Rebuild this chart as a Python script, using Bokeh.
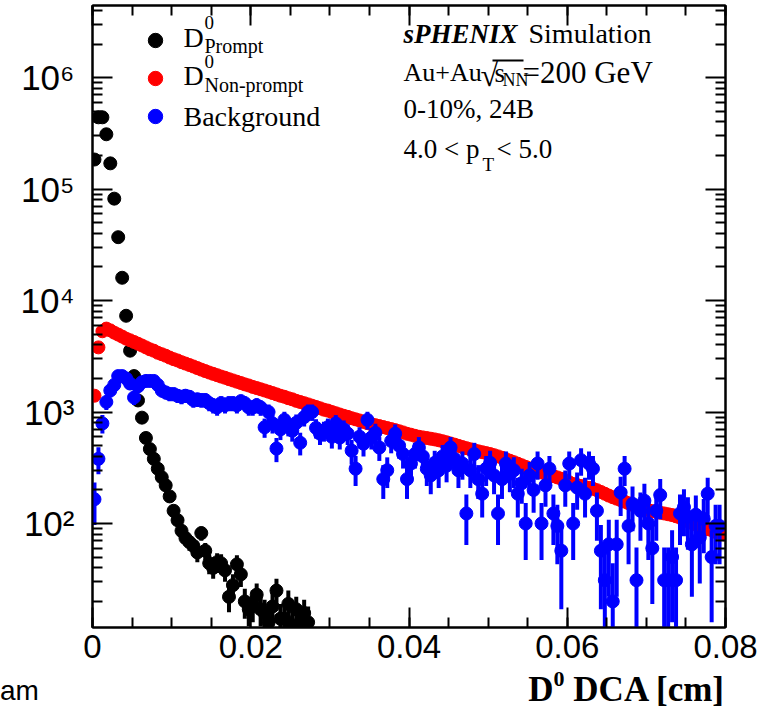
import numpy as np
from bokeh.plotting import figure
from bokeh.layouts import column
from bokeh.models import (Range1d, FixedTicker, LinearAxis, LogAxis, Label, Div,
                          Legend, LegendItem, ColumnDataSource, BoxAnnotation)
from bokeh.embed import file_html
from bokeh.resources import INLINE

# ---------------- data ----------------
bin_low = 0.0
bin_width = 0.0005          # cm

prompt = [184000, 440000, 440000, 310000, 170000, 82000, 37000, 16000, 7300, 3550,
          2100, 1270, 890, 585, 465, 380, 310, 260, 220, 175,
          130, 107, 86, 74, 68, 63, 55, 82, 57, 44,
          40, 45, 44, 38, 22, 28, 43, 35, 20, 17,
          19, 23, 17, 15.7, 13, 18, 25, 14, 14, 19,
          12, 17, 13, 15.7, 13]
prompt_err = [560, 860, 860, 720, 540, 370, 250, 165, 110, 78,
              58, 46, 39, 32, 28, 26, 23, 21, 19, 17,
              15, 13, 12, 11, 11, 10, 10, 12, 10, 9,
              8, 9, 9, 8, 6, 7, 9, 8, 6, 5,
              6, 6, 5, 5, 5, 6, 7, 5, 5, 6,
              5, 5, 5, 5, 5]

nonprompt = [1400, 3800, 5300, 5600, 5400, 5150, 4950, 4750, 4550, 4400,
             4250, 4100, 3950, 3800, 3650, 3550, 3400, 3300, 3200, 3080,
             2980, 2900, 2800, 2720, 2640, 2560, 2480, 2400, 2330, 2260,
             2200, 2140, 2080, 2030, 1970, 1920, 1870, 1820, 1770, 1730,
             1680, 1640, 1600, 1560, 1520, 1480, 1440, 1400, 1370, 1330,
             1300, 1260, 1230, 1200, 1170, 1140, 1110, 1080, 1050, 1030,
             1000, 975, 950, 925, 905, 880, 860, 840, 815, 795,
             778, 762, 748, 733, 718, 703, 688, 672, 656, 638,
             626, 612, 600, 592, 584, 576, 568, 558, 547, 535,
             522, 510, 497, 485, 474, 463, 453, 444, 436, 428,
             420, 410, 400, 389, 377, 366, 355, 344, 333, 322,
             312, 303, 295, 287, 280, 273, 266, 259, 252, 244,
             234, 226, 221, 217, 213, 209, 205, 199, 192, 185,
             178, 172, 167, 162, 157, 152, 147, 143, 139, 135,
             132, 129, 127, 125, 123, 121, 119, 116, 113, 109,
             105, 101, 98, 95, 92, 89, 87, 84, 82, 80]

background = [165, 380, 790, 1230, 1560, 1750, 2100, 2100, 2000, 1800,
              1350, 1700, 1850, 1900, 1900, 1900, 1750, 1560, 1500, 1450,
              1450, 1400, 1370, 1400, 1370, 1280, 1300, 1280, 1280, 1200,
              1150, 1100, 1200, 1150, 1200, 1200, 1150, 1250, 1200, 1100,
              1100, 1150, 1100, 730, 1000, 790, 470, 700, 850, 750,
              680, 800, 530, 900, 1000, 1000, 720, 640, 680, 730,
              600, 790, 590, 700, 640, 450, 310, 600, 520, 850,
              590, 650, 480, 250, 300, 550, 640, 500, 420, 250,
              345, 420, 480, 400, 310, 270, 350, 300, 400, 330,
              480, 380, 300, 345, 123, 300, 420, 250, 185, 310,
              350, 270, 123, 250, 345, 280, 300, 185, 230, 100,
              270, 200, 345, 100, 220, 310, 123, 95, 57, 220,
              345, 100, 210, 370, 185, 345, 310, 130, 57, 31,
              65, 20, 65, 190, 310, 95, 150, 31, 130, 160,
              100, 60, 130, 180, 31, 31, 50, 31, 123, 140,
              115, 65, 120, 75, 110, 185, 50, 95, 95, float("nan")]
background_err = [68, 103, 149, 186, 209, 222, 243, 243, 237, 225,
                  195, 219, 228, 231, 231, 231, 222, 209, 205, 202,
                  202, 198, 196, 198, 196, 190, 191, 190, 190, 184,
                  180, 176, 184, 180, 184, 184, 180, 187, 184, 176,
                  176, 180, 176, 143, 168, 149, 115, 140, 155, 145,
                  138, 150, 122, 159, 168, 168, 142, 134, 138, 143,
                  130, 149, 129, 140, 134, 112, 93, 130, 121, 155,
                  129, 135, 116, 84, 92, 124, 134, 119, 109, 84,
                  98, 109, 116, 106, 93, 87, 99, 92, 106, 96,
                  116, 103, 92, 98, 59, 92, 109, 84, 72, 93,
                  99, 87, 59, 84, 98, 89, 92, 72, 80, 53,
                  87, 75, 98, 53, 79, 93, 59, 52, 40, 79,
                  98, 53, 77, 102, 72, 98, 93, 60, 40, 30,
                  43, 24, 43, 73, 93, 52, 65, 30, 60, 67,
                  53, 41, 60, 71, 30, 30, 37, 30, 59, 63,
                  57, 43, 58, 46, 56, 72, 37, 52, 52, float("nan")]

x_ticks = [0.0, 0.02, 0.04, 0.06, 0.08]
x_tick_labels = ["0", "0.02", "0.04", "0.06", "0.08"]
y_ticks = [1e2, 1e3, 1e4, 1e5, 1e6]
y_tick_labels = ["10\u00b2", "10\u00b3", "10\u2074", "10\u2075", "10\u2076"]

# ---------------- geometry ----------------
W, H = 762, 709
PH = 673                           # figure height; the rest is the caption row
FL, FR, FT, FB = 92, 725, 5, 627   # frame edges in canvas pixels
TEXT_SHIFT = 10                    # label baseline correction (px)

def centers(n):
    return bin_low + bin_width * (np.arange(n) + 0.5)

def err_source(vals, errs):
    v = np.asarray(vals, dtype=float)
    e = np.asarray(errs, dtype=float)
    x = centers(len(v))
    return ColumnDataSource(dict(x=x, y=v, lo=np.maximum(v - e, 1.0), hi=v + e))

p = figure(width=W, height=PH, title=None,
           x_range=Range1d(0.0, 0.08), y_range=Range1d(11.67, 4.43e6),
           y_axis_type="log", output_backend="svg", toolbar_location=None,
           min_border_left=FL, min_border_right=W - FR,
           min_border_top=FT, min_border_bottom=PH - FB)
p.background_fill_color = "white"
p.border_fill_color = "white"
p.outline_line_color = "black"
p.outline_line_width = 2
p.xgrid.visible = False
p.ygrid.visible = False

xt = FixedTicker(ticks=x_ticks, minor_ticks=[0.005 * k for k in range(17)])
yt = FixedTicker(ticks=y_ticks,
                 minor_ticks=[m * 10 ** d for d in range(1, 7) for m in range(2, 10)])

def style_axis(ax, labels=True):
    ax.axis_line_width = 2
    ax.major_tick_line_width = 2
    ax.minor_tick_line_width = 2
    ax.major_tick_in = 20
    ax.major_tick_out = 0
    ax.minor_tick_in = 10
    ax.minor_tick_out = 0
    if not labels:
        ax.major_label_text_font_size = "1px"
        ax.major_label_text_color = None
        ax.major_label_standoff = 0

xa = p.xaxis[0]
xa.ticker = xt
xa.major_label_overrides = {t: s for t, s in zip(x_ticks, x_tick_labels)}
xa.major_label_text_font = "Liberation Sans"
xa.major_label_text_font_size = "33px"
xa.major_label_text_color = "black"
xa.major_label_standoff = 7
style_axis(xa)

ya = p.yaxis[0]
ya.ticker = yt
ya.major_label_overrides = {t: s for t, s in zip(y_ticks, y_tick_labels)}
ya.major_label_text_font = "Liberation Sans"
ya.major_label_text_font_size = "35px"
ya.major_label_text_color = "black"
ya.major_label_standoff = 18
style_axis(ya)

top = LinearAxis(ticker=xt)
style_axis(top, labels=False)
p.add_layout(top, "above")
right = LogAxis(ticker=yt)
style_axis(right, labels=False)
p.add_layout(right, "right")

# ---------------- data glyphs ----------------
s_prompt = err_source(prompt, prompt_err)
s_non = ColumnDataSource(dict(x=centers(len(nonprompt)), y=nonprompt))
s_bkg = err_source(background, background_err)

p.segment(x0="x", x1="x", y0="lo", y1="hi", source=s_prompt,
          line_color="black", line_width=4)
r_prompt = p.scatter(x="x", y="y", source=s_prompt, size=13,
                     fill_color="black", line_color="black")
r_non = p.scatter(x="x", y="y", source=s_non, size=13,
                  fill_color="#ff0000", line_color="#ff0000")
p.segment(x0="x", x1="x", y0="lo", y1="hi", source=s_bkg,
          line_color="#0000ff", line_width=4)
r_bkg = p.scatter(x="x", y="y", source=s_bkg, size=13,
                  fill_color="#0000ff", line_color="#0000ff")

legend = Legend(items=[LegendItem(label=" ", renderers=[r_prompt]),
                       LegendItem(label=" ", renderers=[r_non]),
                       LegendItem(label=" ", renderers=[r_bkg])],
                location=(137 - FL, FB - 135), glyph_width=36, glyph_height=38,
                spacing=0, padding=0, margin=0, label_standoff=0,
                label_width=4, label_height=10, label_text_font_size="8px",
                border_line_color=None, background_fill_alpha=0)
p.add_layout(legend)

# ---------------- texts inside the frame ----------------
def txt(cx, cy, text, size, font="Liberation Serif", style="normal", align="left"):
    p.add_layout(Label(x=cx - FL, y=FB - cy + TEXT_SHIFT, x_units="screen", y_units="screen",
                       text=text, text_font=font, text_font_size=f"{size}px",
                       text_font_style=style, text_align=align,
                       text_baseline="alphabetic", text_color="black"))

# legend labels
txt(183, 47, "D", 28)
txt(204, 32, "0", 19)
txt(204, 55, "Prompt", 20)
txt(183, 85, "D", 28)
txt(204, 71, "0", 19)
txt(204, 94, "Non-prompt", 20)
txt(183, 126, "Background", 28)

# sPHENIX block
txt(403, 43, "sPHENIX", 27, style="bold italic")
txt(528, 43, "Simulation", 28)
txt(403, 82, "Au+Au", 26)
txt(480, 84, "\u221a", 32)
txt(494, 82, "s", 27)
txt(502, 89, "NN", 18)
txt(522, 82, "=200 GeV", 31)
p.add_layout(BoxAnnotation(left=492 - FL, right=523 - FL, top=FB - 59, bottom=FB - 61,
                           left_units="screen", right_units="screen",
                           top_units="screen", bottom_units="screen",
                           fill_color="black", fill_alpha=1, line_color=None))
txt(403, 118, "0-10%, 24B", 27)
txt(403, 158, "4.0 < p", 27)
txt(482, 174, "T", 19)
txt(496, 158, "< 5.0", 27)

# ---------------- caption row below the plot (axis title + cropped fragment) ----------------
caption_html = (
    '<div style="position:relative;width:762px;height:36px;overflow:visible;">'
    '<span style="position:absolute;left:0px;top:4px;white-space:nowrap;'
    'font-family:\'Liberation Sans\';font-size:28px;line-height:28px;color:black;">am</span>'
    '<span style="position:absolute;right:38px;top:0px;white-space:nowrap;'
    'font-family:\'Liberation Serif\';font-weight:bold;font-size:35px;line-height:34px;color:black;">'
    'D<sup style="font-size:22px;line-height:0;position:relative;top:-2px;">0</sup> DCA [cm]</span>'
    '</div>'
)
caption = Div(text=caption_html, width=W, height=H - PH, margin=0)

layout = column(p, caption, spacing=0)
open("out.html", "w").write(file_html(layout, INLINE))
